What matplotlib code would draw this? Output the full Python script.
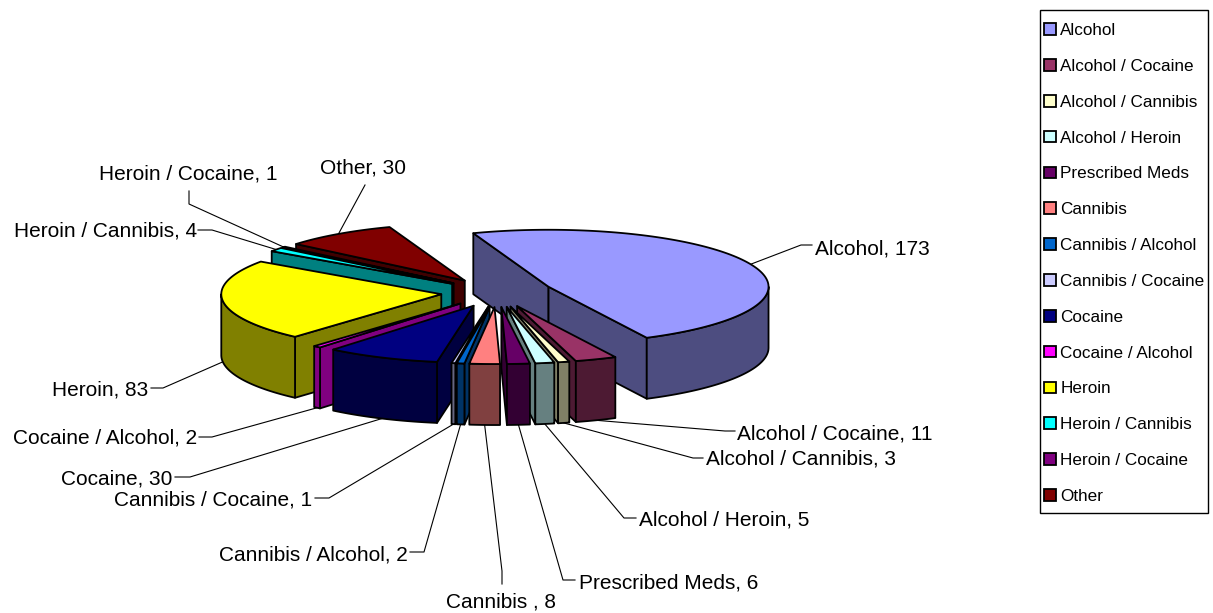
import numpy as np
import matplotlib
matplotlib.use('Agg')
import matplotlib.pyplot as plt
from matplotlib.patches import Polygon, Patch, Rectangle
from matplotlib.colors import to_rgb

plt.rcParams['font.family'] = ['Liberation Sans', 'DejaVu Sans']

# Data
categories = ['Alcohol', 'Alcohol / Cocaine', 'Alcohol / Cannibis', 'Alcohol / Heroin',
              'Prescribed Meds', 'Cannibis', 'Cannibis / Alcohol', 'Cannibis / Cocaine',
              'Cocaine', 'Cocaine / Alcohol', 'Heroin', 'Heroin / Cannibis',
              'Heroin / Cocaine', 'Other']
values = [173, 11, 3, 5, 6, 8, 2, 1, 30, 2, 83, 4, 1, 30]
point_labels = ['Alcohol, 173', 'Alcohol / Cocaine, 11', 'Alcohol / Cannibis, 3', 'Alcohol / Heroin, 5',
                'Prescribed Meds, 6', 'Cannibis , 8', 'Cannibis / Alcohol, 2', 'Cannibis / Cocaine, 1',
                'Cocaine, 30', 'Cocaine / Alcohol, 2', 'Heroin, 83', 'Heroin / Cannibis, 4',
                'Heroin / Cocaine, 1', 'Other, 30']
colors = ['#9999FF', '#993366', '#FFFFCC', '#CCFFFF', '#660066', '#FF8080', '#0066CC',
          '#CCCCFF', '#000080', '#FF00FF', '#FFFF00', '#00FFFF', '#800080', '#800000']

# Pie geometry, in pixels
cx, cy = 497, 292.5
rx, ry = 220, 57
depth = 61
explode = 0.255
start_angle = -110

# label anchor (x, y, ha), leader elbow and leader end for each slice
label_pos = [(815, 249, 'left'), (737, 434, 'left'), (706, 459, 'left'), (639, 520, 'left'),
             (579, 583, 'left'), (501, 602, 'center'), (408, 555, 'right'), (312, 500, 'right'),
             (172, 479, 'right'), (197, 438, 'right'), (148, 390, 'right'), (197, 231, 'right'),
             (188, 174, 'center'), (363, 168, 'center')]
elbows = [(801, 245), (725, 431), (693, 458), (624, 518), (563, 580), (502, 571), (424, 552),
          (329, 498), (190, 477), (212, 437), (163, 388), (212, 230), (189, 204), (365, 185)]
tails = [(812, 245), (735, 431), (703, 458), (636, 518), (575, 580), (502, 584), (410, 552),
         (315, 498), (175, 477), (199, 437), (151, 388), (198, 230), (189, 191), (365, 185)]

fig = plt.figure(figsize=(12.13, 6.13), dpi=100)
ax = fig.add_axes([0, 0, 1, 1])
ax.set_xlim(0, 1213)
ax.set_ylim(613, 0)
ax.axis('off')


def rim(px, py, a):
    a = np.radians(a)
    return px + rx * np.cos(a), py + ry * np.sin(a)


def face(pts, color, z):
    ax.add_patch(Polygon(pts, closed=True, facecolor=color, edgecolor='black',
                         linewidth=1.3, joinstyle='round', zorder=z))


scale = 360 / sum(values)
edges = start_angle + np.concatenate([[0], np.cumsum(values)]) * scale
mids = (edges[:-1] + edges[1:]) / 2

# back slices first
offsets_y = ry * explode * np.sin(np.radians(mids))
order = np.argsort(offsets_y)

for n, i in enumerate(order):
    a1, a2 = edges[i], edges[i + 1]
    m = np.radians(mids[i])
    px = cx + rx * explode * np.cos(m)
    py = cy + ry * explode * np.sin(m)
    top = to_rgb(colors[i])
    side = tuple(c * 0.5 for c in top)
    z = 2 + n * 0.1

    # cut faces
    if np.cos(np.radians(a1)) < 0:
        rx1, ry1 = rim(px, py, a1)
        face([(px, py), (rx1, ry1), (rx1, ry1 + depth), (px, py + depth)], side, z)
    if np.cos(np.radians(a2)) > 0:
        rx2, ry2 = rim(px, py, a2)
        face([(px, py), (rx2, ry2), (rx2, ry2 + depth), (px, py + depth)], side, z)

    # outer wall, only the part facing the viewer
    lo, hi = max(a1, 0), min(a2, 180)
    if hi > lo:
        t = np.linspace(lo, hi, 60)
        xs, ys = rim(px, py, t)
        face(np.concatenate([np.c_[xs, ys], np.c_[xs, ys + depth][::-1]]), side, z + 0.01)

    # top
    t = np.linspace(a1, a2, 120)
    xs, ys = rim(px, py, t)
    face(np.concatenate([[(px, py)], np.c_[xs, ys]]), top, z + 0.02)

    # leader line from the rim
    lx, ly = rim(px, py, mids[i])
    if 0 < mids[i] < 180:
        ly += depth
    ex, ey = elbows[i]
    ox, oy = tails[i]
    ax.plot([lx, ex, ox], [ly, ey, oy], color='black', lw=0.8, zorder=1)
    tx, ty, ha = label_pos[i]
    ax.text(tx, ty, point_labels[i], ha=ha, va='center', fontsize=15, color='black', zorder=10)

# legend box is drawn apart so the rows can sit where they should
ax.add_patch(Rectangle((1040, 10), 168, 503, facecolor='white', edgecolor='black', linewidth=1, zorder=5))
handles = [Patch(facecolor=c, edgecolor='black', linewidth=1.3) for c in colors]
leg = ax.legend(handles, categories, loc='upper left', bbox_to_anchor=(1044 / 1213, 1 - 23 / 613),
                fontsize=12.3, frameon=False, handlelength=0.68, handleheight=0.68,
                handletextpad=0.28, labelspacing=1.22, borderaxespad=0, borderpad=0)
leg.set_zorder(6)

fig.savefig('out.png', dpi=100)
